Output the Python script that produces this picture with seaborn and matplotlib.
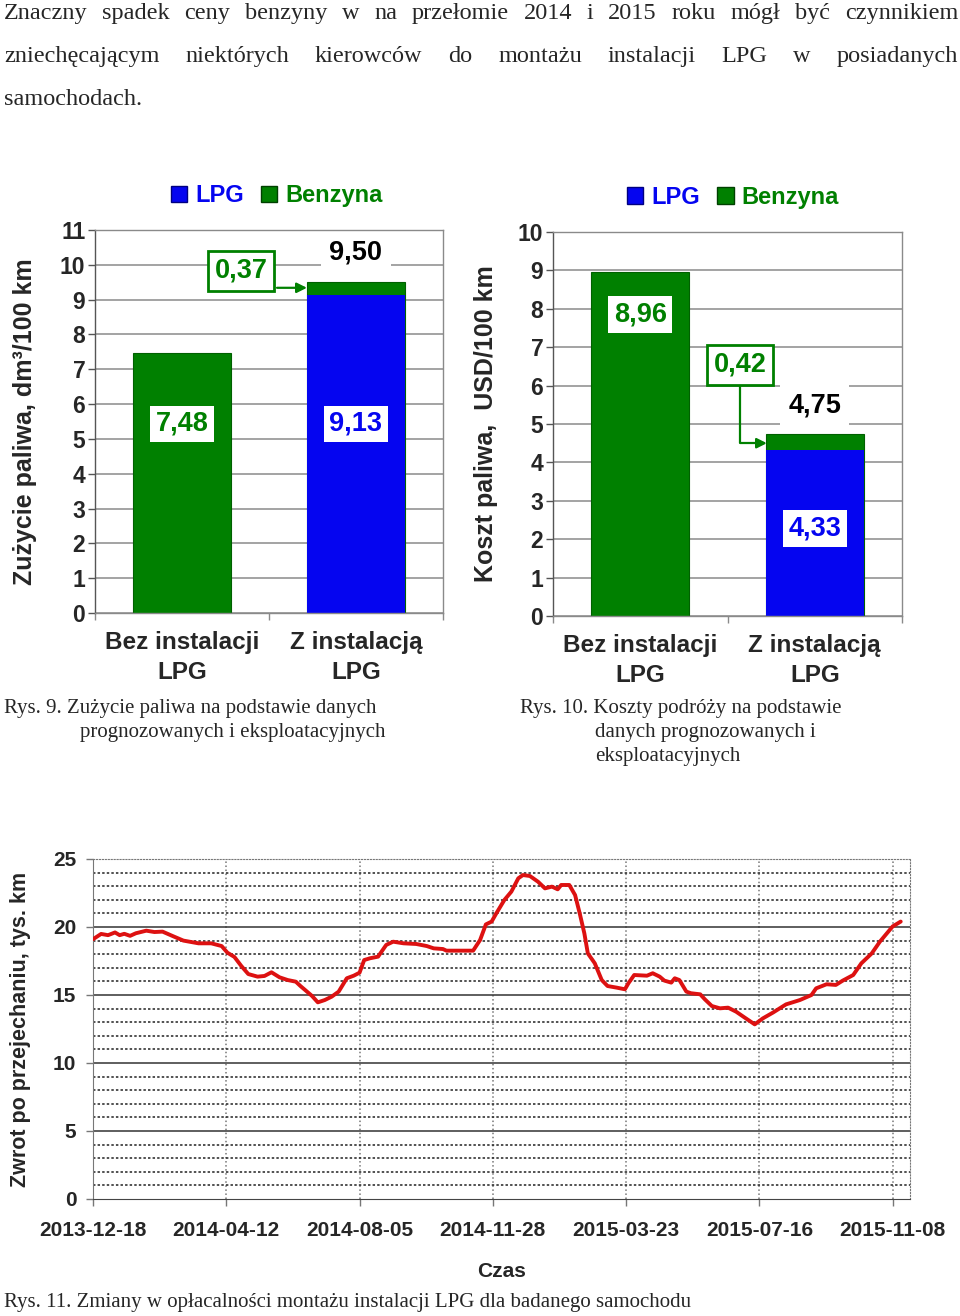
import pandas as pd
import matplotlib
matplotlib.use('Agg')
import matplotlib.pyplot as plt
from matplotlib.patches import Patch
from matplotlib.ticker import MultipleLocator
import seaborn as sns

# --- data ---
categories = ['Bez instalacji\nLPG', 'Z instalacją\nLPG']
consumption_lpg = [0.0, 9.13]
consumption_benzyna = [7.48, 0.37]
cost_lpg = [0.0, 4.33]
cost_benzyna = [8.96, 0.42]

start_date = '2013-12-18'
days = [0, 7, 13, 19, 23, 27, 32, 37, 46, 53, 60, 70, 78, 91, 102, 111, 116, 122, 128, 134,
        142, 148, 154, 161, 168, 175, 179, 183, 189, 194, 200, 206, 212, 219, 225, 230, 234,
        239, 246, 253, 259, 268, 279, 288, 294, 302, 305, 328, 334, 339, 344, 348, 355, 361,
        367, 371, 377, 384, 390, 396, 401, 404, 411, 416, 420, 424, 427, 433, 439, 444, 452,
        459, 462, 467, 478, 483, 489, 493, 499, 502, 506, 512, 516, 524, 528, 534, 541, 548,
        555, 562, 571, 578, 587, 598, 610, 620, 624, 633, 641, 647, 656, 663, 672, 679, 685,
        690, 697]
payback = [19.1, 19.49, 19.4, 19.6, 19.4, 19.5, 19.35, 19.54, 19.73, 19.63, 19.66, 19.29, 19.0,
           18.8, 18.8, 18.6, 18.11, 17.8, 17.13, 16.54, 16.35, 16.4, 16.67, 16.3, 16.1, 15.98,
           15.66, 15.37, 14.93, 14.46, 14.63, 14.88, 15.25, 16.23, 16.42, 16.64, 17.57, 17.7,
           17.82, 18.68, 18.92, 18.8, 18.75, 18.6, 18.43, 18.38, 18.26, 18.26, 19.04, 20.19,
           20.4, 21.0, 21.99, 22.6, 23.58, 23.82, 23.75, 23.33, 22.84, 22.97, 22.77, 23.09,
           23.09, 22.35, 21.0, 19.53, 18.06, 17.33, 16.1, 15.66, 15.54, 15.42, 15.86, 16.47,
           16.42, 16.6, 16.35, 16.06, 15.91, 16.23, 16.1, 15.25, 15.13, 15.05, 14.68, 14.19,
           14.02, 14.07, 13.77, 13.36, 12.84, 13.28, 13.72, 14.31, 14.63, 15.0, 15.49, 15.79,
           15.74, 16.06, 16.47, 17.33, 18.06, 18.92, 19.53, 20.04, 20.4]
date_ticks = ['2013-12-18', '2014-04-12', '2014-08-05', '2014-11-28',
              '2015-03-23', '2015-07-16', '2015-11-08']

GREEN = '#008000'
BLUE = '#0505F0'
RED = '#DD1111'
GRID = '#8a8a8a'

sns.set_style('white')
plt.rcParams['font.family'] = ['Liberation Sans', 'DejaVu Sans']
plt.rcParams['font.weight'] = 'bold'

W, H = 960, 1316
fig = plt.figure(figsize=(W / 100, H / 100), dpi=100)


def box(l, t, r, b):
    return [l / W, 1 - b / H, (r - l) / W, (b - t) / H]


def fmt(v):
    return f'{v:.2f}'.replace('.', ',')


def bar_chart(ax, lpg, benzyna, ymax, ylabel, label_x, legend_x):
    total = [a + b for a, b in zip(lpg, benzyna)]
    sns.barplot(x=categories, y=total, color=GREEN, width=0.56, saturation=1,
                errorbar=None, edgecolor='#006000', linewidth=0.8, ax=ax)
    sns.barplot(x=categories, y=lpg, color=BLUE, width=0.56, saturation=1,
                errorbar=None, linewidth=0, ax=ax)
    ax.set_xlim(-0.5, 1.5)
    ax.set_ylim(0, ymax)
    ax.set_yticks(range(ymax + 1))
    ax.grid(axis='y', color=GRID, lw=1.1)
    ax.set_axisbelow(True)
    for s in ax.spines.values():
        s.set_color(GRID)
        s.set_linewidth(1.0)
    ax.spines['left'].set_color('#555555')
    ax.set_xticks([-0.5, 0.5, 1.5], minor=True)
    ax.tick_params(axis='x', which='minor', bottom=True, length=5, color=GRID, width=1)
    ax.tick_params(axis='x', which='major', bottom=True, length=0, pad=13, labelsize=17.5)
    ax.tick_params(axis='y', left=True, length=5, width=1, color='#555555', pad=2,
                   labelsize=16.5)
    for lab in ax.get_xticklabels():
        lab.set_linespacing(1.4)
    ax.set_ylabel(ylabel, fontsize=18, fontweight='bold')
    ax.yaxis.set_label_coords(label_x, 0.5)
    ax.set_xlabel('')
    handles = [Patch(facecolor=BLUE, edgecolor='#000080', label='LPG'),
               Patch(facecolor=GREEN, edgecolor='#004000', label='Benzyna')]
    leg = ax.legend(handles=handles, loc='center', bbox_to_anchor=(legend_x, 1.09), ncol=2,
                    frameon=False, fontsize=17, handlelength=0.7, handleheight=0.7,
                    handletextpad=0.35, columnspacing=0.7, borderaxespad=0)
    for txt, c in zip(leg.get_texts(), [BLUE, GREEN]):
        txt.set_color(c)
    return total


label_box = dict(boxstyle='square,pad=0.2', fc='white', ec='none')

# Rys. 9
ax1 = fig.add_axes(box(95, 230, 443, 613))
tot1 = bar_chart(ax1, consumption_lpg, consumption_benzyna, 11,
                 'Zużycie paliwa, dm³/100 km', -0.167, 0.523)
ax1.text(0, 5.43, fmt(consumption_benzyna[0]), color=GREEN, ha='center', va='center',
         fontsize=19.5, bbox=label_box)
ax1.text(1, 5.43, fmt(consumption_lpg[1]), color=BLUE, ha='center', va='center',
         fontsize=19.5, bbox=label_box)
ax1.text(1, 10.34, fmt(tot1[1]), color='black', ha='center', va='center', fontsize=19.5,
         bbox=dict(boxstyle='square,pad=0.3', fc='white', ec='none'))
ax1.text(0.339, 9.83, fmt(consumption_benzyna[1]), color=GREEN, ha='center', va='center',
         fontsize=19.5, bbox=dict(boxstyle='square,pad=0.25', fc='white', ec=GREEN, lw=2))
ax1.annotate('', xy=(0.718, 9.34), xytext=(0.546, 9.34),
             arrowprops=dict(arrowstyle='-|>', color=GREEN, lw=1.6, mutation_scale=15,
                             shrinkA=0, shrinkB=0))

# Rys. 10
ax2 = fig.add_axes(box(553, 232, 902, 616))
tot2 = bar_chart(ax2, cost_lpg, cost_benzyna, 10,
                 'Koszt paliwa,  USD/100 km', -0.158, 0.516)
ax2.text(0, 7.86, fmt(cost_benzyna[0]), color=GREEN, ha='center', va='center',
         fontsize=19.5, bbox=label_box)
ax2.text(1, 2.27, fmt(cost_lpg[1]), color=BLUE, ha='center', va='center',
         fontsize=19.5, bbox=label_box)
ax2.text(1, 5.47, fmt(tot2[1]), color='black', ha='center', va='center', fontsize=19.5,
         bbox=dict(boxstyle='square,pad=0.3', fc='white', ec='none'))
ax2.text(0.572, 6.54, fmt(cost_benzyna[1]), color=GREEN, ha='center', va='center',
         fontsize=19.5, bbox=dict(boxstyle='square,pad=0.25', fc='white', ec=GREEN, lw=2))
ax2.annotate('', xy=(0.726, 4.5), xytext=(0.572, 5.99),
             arrowprops=dict(arrowstyle='-|>', color=GREEN, lw=1.6, mutation_scale=15,
                             shrinkA=0, shrinkB=0,
                             connectionstyle='angle,angleA=90,angleB=0,rad=0'))

# Rys. 11
ax3 = fig.add_axes(box(93, 859, 910, 1199))
t0 = pd.to_datetime(start_date)
dates = t0 + pd.to_timedelta(days, unit='D')
sns.lineplot(x=dates, y=payback, color=RED, linewidth=2.8, ax=ax3, zorder=5)
ax3.set_ylim(0, 25)
ax3.set_xlim(t0, t0 + pd.Timedelta(days=705))
ax3.set_xticks(pd.to_datetime(date_ticks))
ax3.set_xticklabels(date_ticks)
ax3.yaxis.set_major_locator(MultipleLocator(5))
ax3.yaxis.set_minor_locator(MultipleLocator(1))
ax3.grid(axis='y', which='minor', color='#222222', lw=1.1, linestyle=(0, (1.6, 1.4)))
ax3.grid(axis='x', which='major', color='#777777', lw=1.1, linestyle=':')
for v in [5, 10, 15, 20]:
    ax3.axhline(v, color='#333333', lw=1.1, zorder=1)
for side in ['top', 'right']:
    ax3.spines[side].set_linestyle(':')
    ax3.spines[side].set_color('#777777')
ax3.spines['left'].set_color('#777777')
ax3.spines['bottom'].set_color('#444444')
ax3.tick_params(axis='y', which='minor', left=False, length=0)
ax3.tick_params(axis='y', which='major', left=True, length=5, width=1, color='#777777',
                pad=7, labelsize=15)
ax3.tick_params(axis='x', bottom=True, length=5, width=1, color='#777777', pad=11,
                labelsize=15)
ax3.set_ylabel('Zwrot po przejechaniu, tys. km', fontsize=15.5, fontweight='bold')
ax3.yaxis.set_label_coords(-0.076, 0.5)
ax3.set_xlabel('Czas', fontsize=15, fontweight='bold')
ax3.xaxis.set_label_coords(0.5, -0.185)

# body text and captions
renderer = fig.canvas.get_renderer()
serif = dict(family=['Liberation Serif', 'DejaVu Serif'], fontweight='normal', va='baseline')


def justified(text, y, x0=4, x1=958, size=17.5):
    words = text.split()
    items = [fig.text(0, 1 - y / H, w, fontsize=size, **serif) for w in words]
    widths = [t.get_window_extent(renderer).width for t in items]
    gap = (x1 - x0 - sum(widths)) / (len(words) - 1)
    x = x0
    for t, w in zip(items, widths):
        t.set_x(x / W)
        x += w + gap


justified('Znaczny spadek ceny benzyny w na przełomie 2014 i 2015 roku mógł być czynnikiem', 19)
justified('zniechęcającym niektórych kierowców do montażu instalacji LPG w posiadanych', 62)
fig.text(4 / W, 1 - 105 / H, 'samochodach.', fontsize=17.5, **serif)

captions = [(4, 713, 'Rys. 9. Zużycie paliwa na podstawie danych'),
            (80, 737, 'prognozowanych i eksploatacyjnych'),
            (520, 713, 'Rys. 10. Koszty podróży na podstawie'),
            (595, 737, 'danych prognozowanych i'),
            (595, 761, 'eksploatacyjnych'),
            (4, 1307, 'Rys. 11. Zmiany w opłacalności montażu instalacji LPG dla badanego samochodu')]
for x, y, txt in captions:
    fig.text(x / W, 1 - y / H, txt, fontsize=15, **serif)

fig.savefig('out.png', dpi=100)
